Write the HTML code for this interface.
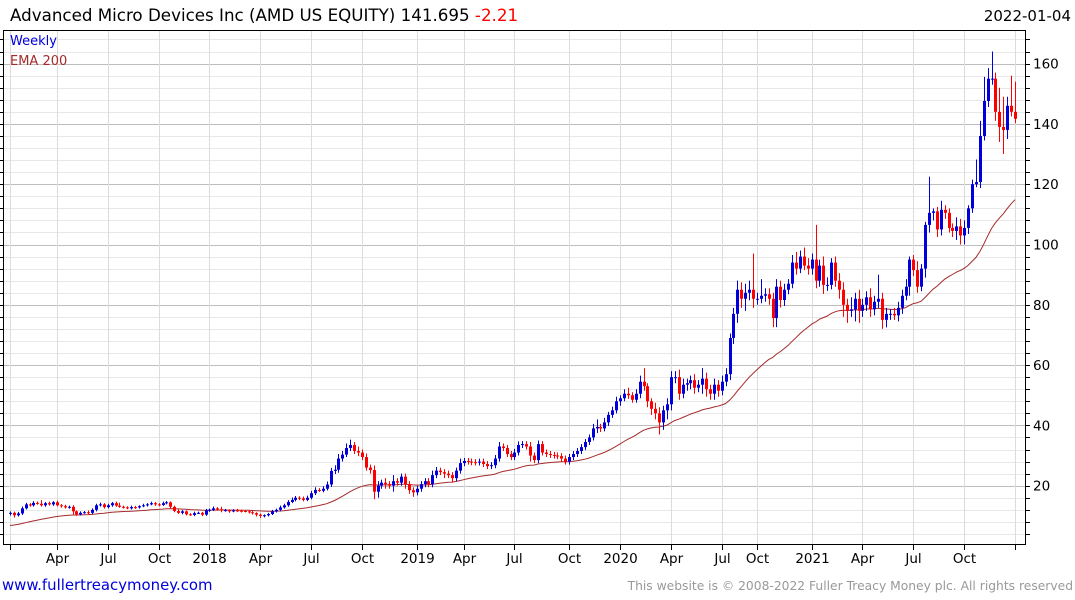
<!DOCTYPE html>
<html><head><meta charset="utf-8">
<style>
html,body{margin:0;padding:0;background:#fff;}
body{width:1075px;height:600px;overflow:hidden;position:relative;font-family:"DejaVu Sans","Liberation Sans",sans-serif;}
svg{position:absolute;left:0;top:0;font-family:"DejaVu Sans","Liberation Sans",sans-serif;}
</style></head>
<body>
<svg id="chart" width="1075" height="600">
  <text x="10" y="21" font-size="16.7" fill="#000">Advanced Micro Devices Inc (AMD US EQUITY) 141.695 <tspan fill="#ff0000">-2.21</tspan></text>
  <text x="1071" y="21" font-size="15" fill="#000" text-anchor="end">2022-01-04</text>
  <g id="grid"></g>
  <g id="ema"></g>
  <g id="candles"></g>
  <g id="axes"></g>
  <text x="10" y="45" font-size="13" fill="#0000dd">Weekly</text>
  <text x="10" y="65" font-size="13" fill="#a52a2a">EMA 200</text>
  <text x="2" y="590" font-size="14.9" fill="#0000dd">www.fullertreacymoney.com</text>
  <text x="1073" y="590" font-size="12.3" fill="#999" text-anchor="end">This website is © 2008-2022 Fuller Treacy Money plc. All rights reserved</text>
</svg>
<script>
const closes = [11,10.2,10.8,12.5,13.8,13.5,14.3,14,13.5,14.2,
13.8,14.5,13.5,13.2,12.8,13,11.5,10.5,11,11.2,
11,12,13.5,13.8,12.9,13.5,14.2,13.4,13,12.8,
12.5,12.9,12.8,13.2,13.5,13.8,14.2,13.8,13.6,14.2,
14.5,13,11.6,11,11.5,10.5,10.3,10.9,11,10.4,
11.8,12,12.5,12.2,11.8,11.9,11.5,11.8,11.7,11.6,
11.5,11.2,10.9,10.4,10,10.2,10.6,11.5,12,12.8,
13.5,14.6,15.3,16,15.8,15.3,16,17.5,18.6,18.3,
19,20.4,24.9,25.3,29,30.3,32.5,33.5,31.5,31,
29.5,26,25.2,18,20,21,20.5,20,21.5,21,
23,20.5,18.5,17.8,19,20.5,21.5,20.5,23.5,25,
24.5,24,23.5,22.5,25,27.5,28.2,28,27.8,27.7,
28,27.2,26.5,26.8,29,33,32.5,30.5,29.5,31,
33.5,33.8,33,30,28.5,33.8,31,30.5,30.2,30,
29.8,29,28,29.5,30.5,31.5,32.8,34.5,36,39,
39.5,39,41,43.5,45,48,49,50.5,50,48.5,
50.5,54.5,53,48,45.5,44,41,45,47,56,
56,50.5,53.5,54,55,52.5,53.5,55.5,52,50.5,
53.5,51.5,54.5,57,69,77,85,82,84,85,
82,82,83,83.5,82,75.6,86,81.6,85,87,
94,92,96,93,92,95,88,93,86.6,86.6,
94,88,85,80,78,78.5,82,78,80,82.5,
78.5,81,82,75,77,77,76.5,79,83,86,
95,91.5,86,92,106.5,110.5,111,105,111.5,110.5,
105.5,104.5,106,103,105.5,112,120,120.7,136,147.6,
155,155,144,139,138,146,144,141.7];
const wickUp = [.5,.4,.5,.6,.5,.4,.6,.5,1.2,.4,
.5,.4,.5,.4,.5,.4,.5,.3,.5,.4,
.6,.5,.5,.6,.4,.5,.4,.5,1.0,.4,
.4,.5,.4,.3,.5,.4,.5,.4,.4,.5,
.4,.3,.4,.5,.4,.3,.4,.5,.4,.3,
.5,.4,.6,.4,.8,.4,.3,.4,.5,.4,
.4,.3,.4,.3,.4,.3,.4,.5,.4,.6,
.5,.6,.8,.6,.5,.6,.7,.8,.9,.6,
.8,1,1,1.5,1.5,1.2,1.5,1.8,1,1.5,
1,1.2,1,1.5,1.5,1,1.5,1,2,1,
1,1,1,1,1,1,1,1,1.5,1.2,
1,1,1,1,1,1.5,1,1,1,1,
1,1,1,1,1.2,1.5,1,1,1,1.2,
1.2,1,1,1.5,1,1.2,1,1,1,1,
1,1,1,1,1,1,1,1,1,1.5,
2.5,1,1.5,1,1.2,1.5,1,1.5,2,1,
1.5,2,4.5,1,1,2,2,1.5,2,2,
2,2.5,2,1.5,1.5,2,1.5,3.5,2,1.5,
2,1.5,2,2,1.5,2,3,2.5,3,3,
12,2,5.5,2,2,2,2.5,2,2,1.5,
2.5,3.5,2,3,2.5,2,11.5,2,3,2.5,
1.5,2,2.5,2.5,2,4,2,3,2,2,
3,2,8,2,2,1.5,2,2,2,2.5,
1,1.5,3,1.5,1,12,1,1.5,3,1.5,
1.5,1.5,3,2.5,2.5,1,1.5,7.5,5,8,
3.5,9,2,8,10,3,10,10];
const wickDn = [.6,.8,.4,.5,.4,.5,.4,.3,.4,.5,
.4,.5,.4,.5,.4,.4,1,.5,.4,.3,
.5,.4,.5,.4,.5,.4,.5,.4,.3,.4,
.3,.4,.5,.4,.3,.4,.3,.5,.4,.3,
.4,.5,.4,.4,.5,.4,.3,.4,.3,.5,
.4,.5,.4,.5,.6,.4,.5,.3,.4,.5,
.3,.4,.5,.6,.7,.5,.4,.3,.4,.5,
.4,.5,.4,.5,.6,.5,.4,.5,.6,.4,
.5,.6,.8,1,1,1,.8,1,1,1.2,
1,1,1.2,2.5,2,1,1.5,1,2,1,
1,1.5,1.2,1.5,1,1,1,1,1,1,
1,1.5,1,1.5,1,1,1,1,1,1,
1,1,1,1,1,1,1,1,1,1,
1,1,1,2,1,1,1,1,1,1,
1,1,1,1,1,1,1,1,1,1,
1.5,1.2,1,1.2,1,1,1.5,1,1.2,1,
1,1.5,1.5,2,2,2,4,2.5,3,2,
2,2,1.5,2,2,2,1.5,3,2.5,2,
2,2,1.5,1.5,2,2,3,3,4,2.5,
3,2,1.5,2,2,3,3,2.5,2,1.5,
1.5,2,1.5,1.5,2,2,2.5,2,3,2,
1.5,2,3,4,4,2,4,4,2,2,
2.5,2,2,3,2.5,2,1.5,2,2,1.5,
3,2,2,1.5,3,2.5,2.5,2.5,2,2,
1.5,2,3,3,3,2,1.5,1,2,1.5,
2,2,3,5,8,3,1.5,1.5];
const emaStart = 6.6;
const emaPeriod = 40;
const tickIdx = [0,12,25,38,51,64,77,90,104,116,129,143,156,169,182,191,205,218,231,244,257];
const tickLabels = ["","Apr","Jul","Oct","2018","Apr","Jul","Oct","2019","Apr","Jul","Oct","2020","Apr","Jul","Oct","2021","Apr","Jul","Oct",""];
const yTicks = [20,40,60,80,100,120,140,160];

const NS = "http://www.w3.org/2000/svg";
const L = 3, R = 1025, T = 30, B = 544;
const n = closes.length;
const step = 1005 / (n - 1);
function xs(i){ return 10 + i * step; }
function ys(v){ return 546 - v * 3.015; }
function mk(tag, attrs, parent){
  const e = document.createElementNS(NS, tag);
  for (const k in attrs) e.setAttribute(k, attrs[k]);
  parent.appendChild(e);
  return e;
}
const grid = document.getElementById('grid');
const axes = document.getElementById('axes');
for (let v = 4; v <= 176; v += 4) {
  const y = Math.round(ys(v)) + 0.5;
  if (y < T) continue;
  const major = v % 20 === 0;
  const g = mk('line', {x1:L, x2:R, y1:y, y2:y, stroke: major ? '#bdbdbd' : '#e8e8e8', 'stroke-width':1}, grid);
  
  
  const t = mk('line', {x1:R, x2:R+5, y1:y, y2:y, stroke:'#000', 'stroke-width':1}, axes);
  
  
  const t2 = mk('line', {x1:0, x2:L, y1:y, y2:y, stroke:'#000', 'stroke-width':1}, axes);
  
  
}
yTicks.forEach(v => {
  const lb = mk('text', {x:1033, y:ys(v)+5, 'font-size':13.5, fill:'#000'}, axes);
  lb.textContent = String(v);
  
  
});
tickIdx.forEach((ti, k) => {
  const x = Math.round(xs(ti)) + 0.5;
  const g = mk('line', {x1:x, x2:x, y1:T, y2:B, stroke:'#dcdcdc', 'stroke-width':1}, grid);
  
  
  const t = mk('line', {x1:x, x2:x, y1:B, y2:B+6, stroke:'#000', 'stroke-width':1}, axes);
  
  
  if (tickLabels[k]) {
    const lb = mk('text', {x:x, y:563, 'font-size':13.5, fill:'#000', 'text-anchor':'middle'}, axes);
    lb.textContent = tickLabels[k];
    
    
  }
});
const fr = mk('path', {d:`M${L}.5 ${T}.5 H${R}.5 V${B}.5 H${L}.5 Z`, fill:'none', stroke:'#000', 'stroke-width':1}, axes);


const alpha = 2 / (emaPeriod + 1);
let ema = emaStart, pts = [];
for (let i = 0; i < n; i++) {
  ema = ema + alpha * (closes[i] - ema);
  pts.push(xs(i).toFixed(1) + ',' + ys(ema).toFixed(1));
}
const emaLine = mk('polyline', {points:pts.join(' '), fill:'none', stroke:'#a52a2a', 'stroke-width':1}, document.getElementById('ema'));


const cg = document.getElementById('candles');
for (let i = 0; i < n; i++) {
  const c = closes[i];
  const o = i === 0 ? closes[0] - 0.3 : closes[i-1];
  const up = c >= o;
  const col = up ? '#0000dd' : '#ff0000';
  const x = Math.round(xs(i));
  const hi = Math.max(o, c) + wickUp[i];
  const lo = Math.min(o, c) - wickDn[i];
  const g = mk('g', {}, cg);
  
  
  mk('line', {x1:x+0.5, x2:x+0.5, y1:ys(hi), y2:ys(lo), stroke:col, 'stroke-width':1}, g);
  const top = ys(Math.max(o, c)), bot = ys(Math.min(o, c));
  mk('rect', {x:x-1, y:top, width:3, height:Math.max(1, bot-top), fill:col}, g);
}
</script>
</body></html>
